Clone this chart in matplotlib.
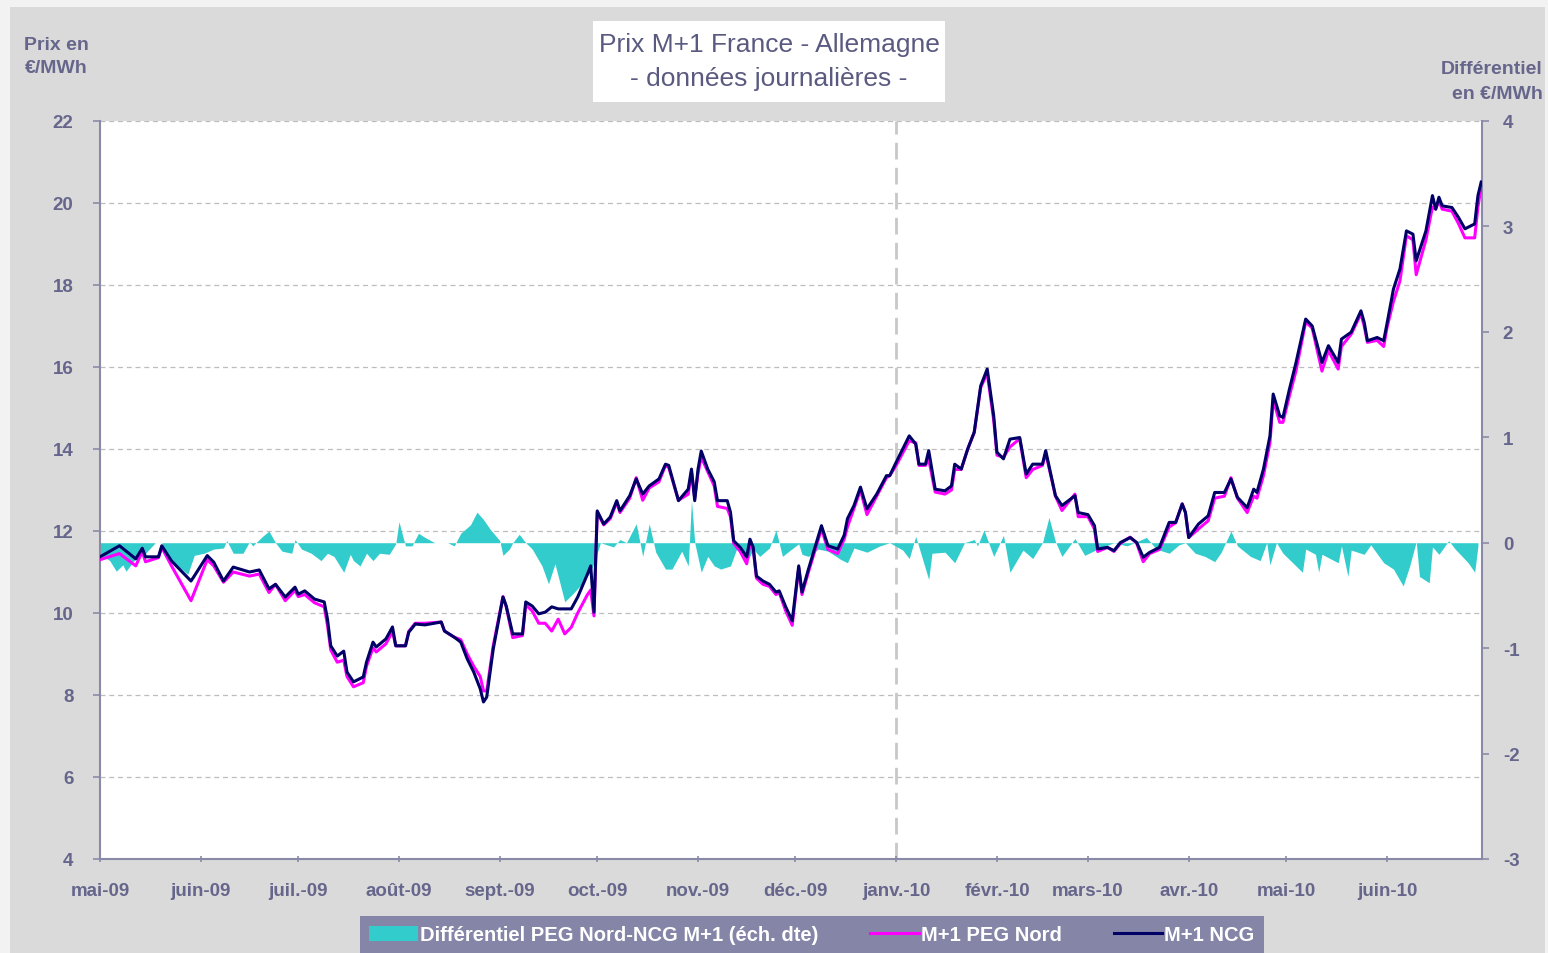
import matplotlib
matplotlib.use("Agg")
import matplotlib.pyplot as plt
from matplotlib import font_manager
from matplotlib.patches import Rectangle
import pandas as pd

plt.rcParams["axes.unicode_minus"] = False

# ---------------- data ----------------
price_dates = [
    "2009-05-01", "2009-05-07", "2009-05-12", "2009-05-14", "2009-05-15", "2009-05-19", "2009-05-20",
    "2009-05-23", "2009-05-29", "2009-05-30", "2009-06-03", "2009-06-05", "2009-06-08", "2009-06-11",
    "2009-06-16", "2009-06-19", "2009-06-22", "2009-06-24", "2009-06-27", "2009-06-30", "2009-07-01",
    "2009-07-03", "2009-07-06", "2009-07-09", "2009-07-10", "2009-07-11", "2009-07-13", "2009-07-15",
    "2009-07-16", "2009-07-18", "2009-07-21", "2009-07-22", "2009-07-24", "2009-07-25", "2009-07-28",
    "2009-07-30", "2009-07-31", "2009-08-03", "2009-08-04", "2009-08-06", "2009-08-09", "2009-08-14",
    "2009-08-15", "2009-08-18", "2009-08-20", "2009-08-22", "2009-08-24", "2009-08-26", "2009-08-27",
    "2009-08-28", "2009-08-30", "2009-09-02", "2009-09-03", "2009-09-05", "2009-09-08", "2009-09-09",
    "2009-09-11", "2009-09-13", "2009-09-15", "2009-09-17", "2009-09-19", "2009-09-21", "2009-09-23",
    "2009-09-25", "2009-09-28", "2009-09-29", "2009-09-30", "2009-10-01", "2009-10-03", "2009-10-05",
    "2009-10-07", "2009-10-08", "2009-10-11", "2009-10-13", "2009-10-15", "2009-10-17", "2009-10-20",
    "2009-10-22", "2009-10-23", "2009-10-26", "2009-10-29", "2009-10-30", "2009-10-31", "2009-11-01",
    "2009-11-02", "2009-11-04", "2009-11-06", "2009-11-07", "2009-11-10", "2009-11-11", "2009-11-12",
    "2009-11-14", "2009-11-16", "2009-11-17", "2009-11-18", "2009-11-19", "2009-11-21", "2009-11-23",
    "2009-11-25", "2009-11-26", "2009-11-28", "2009-11-30", "2009-12-02", "2009-12-03", "2009-12-05",
    "2009-12-09", "2009-12-11", "2009-12-14", "2009-12-16", "2009-12-17", "2009-12-19", "2009-12-21",
    "2009-12-23", "2009-12-26", "2009-12-29", "2009-12-30", "2010-01-01", "2010-01-05", "2010-01-07",
    "2010-01-08", "2010-01-10", "2010-01-11", "2010-01-13", "2010-01-16", "2010-01-18", "2010-01-19",
    "2010-01-21", "2010-01-23", "2010-01-25", "2010-01-27", "2010-01-29", "2010-01-31", "2010-02-01",
    "2010-02-03", "2010-02-05", "2010-02-08", "2010-02-10", "2010-02-12", "2010-02-15", "2010-02-16",
    "2010-02-19", "2010-02-21", "2010-02-25", "2010-02-26", "2010-03-01", "2010-03-03", "2010-03-04",
    "2010-03-07", "2010-03-09", "2010-03-11", "2010-03-14", "2010-03-16", "2010-03-18", "2010-03-20",
    "2010-03-23", "2010-03-26", "2010-03-28", "2010-03-30", "2010-03-31", "2010-04-01", "2010-04-04",
    "2010-04-07", "2010-04-09", "2010-04-12", "2010-04-14", "2010-04-16", "2010-04-19", "2010-04-21",
    "2010-04-22", "2010-04-24", "2010-04-26", "2010-04-27", "2010-04-29", "2010-04-30", "2010-05-02",
    "2010-05-04", "2010-05-07", "2010-05-09", "2010-05-12", "2010-05-14", "2010-05-17", "2010-05-18",
    "2010-05-21", "2010-05-24", "2010-05-25", "2010-05-26", "2010-05-29", "2010-05-31", "2010-06-01",
    "2010-06-03", "2010-06-05", "2010-06-07", "2010-06-09", "2010-06-10", "2010-06-13", "2010-06-15",
    "2010-06-16", "2010-06-17", "2010-06-18", "2010-06-21", "2010-06-23", "2010-06-25", "2010-06-28",
    "2010-06-29", "2010-06-30",
]

ncg = [
    11.37, 11.64, 11.32, 11.58, 11.37, 11.37, 11.64,
    11.27, 10.78, 10.90, 11.40, 11.24, 10.78, 11.12,
    11.00, 11.05, 10.59, 10.70, 10.39, 10.63, 10.46,
    10.54, 10.34, 10.27, 9.85, 9.20, 8.95, 9.07,
    8.56, 8.32, 8.44, 8.80, 9.29, 9.17, 9.37,
    9.66, 9.20, 9.20, 9.53, 9.73, 9.71, 9.78,
    9.56, 9.41, 9.29, 8.88, 8.56, 8.15, 7.83,
    7.95, 9.12, 10.39, 10.17, 9.49, 9.49, 10.27,
    10.17, 9.98, 10.02, 10.15, 10.10, 10.10, 10.10,
    10.39, 10.95, 11.15, 10.02, 12.49, 12.17, 12.34,
    12.74, 12.49, 12.86, 13.27, 12.90, 13.10, 13.27,
    13.63, 13.60, 12.74, 13.02, 13.51, 12.74, 13.50,
    13.95, 13.51, 13.20, 12.74, 12.74, 12.46, 11.76,
    11.60, 11.37, 11.80, 11.60, 10.90, 10.78, 10.70,
    10.51, 10.54, 10.15, 9.81, 11.15, 10.51, 11.07,
    12.13, 11.64, 11.56, 11.90, 12.30, 12.62, 13.07,
    12.54, 12.90, 13.35, 13.35, 13.68, 14.32, 14.12,
    13.63, 13.63, 13.96, 13.02, 12.98, 13.10, 13.63,
    13.51, 14.00, 14.41, 15.54, 15.95, 14.81, 13.92,
    13.76, 14.24, 14.28, 13.39, 13.63, 13.63, 13.96,
    12.86, 12.62, 12.86, 12.45, 12.40, 12.13, 11.56,
    11.60, 11.52, 11.72, 11.84, 11.72, 11.36, 11.48,
    11.60, 12.21, 12.21, 12.66, 12.45, 11.84, 12.17,
    12.37, 12.94, 12.94, 13.27, 12.82, 12.57, 13.02,
    12.94, 13.51, 14.32, 15.34, 14.81, 14.77, 15.46,
    16.10, 17.17, 17.00, 16.11, 16.52, 16.11, 16.68,
    16.85, 17.37, 17.09, 16.64, 16.72, 16.64, 17.05,
    17.90, 18.39, 19.32, 19.24, 18.59, 19.32, 20.18,
    19.85, 20.14, 19.93, 19.89, 19.65, 19.37, 19.49,
    20.18, 20.51,
]

peg_nord = [
    11.30, 11.45, 11.15, 11.50, 11.25, 11.35, 11.60,
    11.15, 10.30, 10.50, 11.30, 11.15, 10.75, 11.00,
    10.90, 10.95, 10.50, 10.70, 10.30, 10.55, 10.40,
    10.45, 10.25, 10.15, 9.70, 9.10, 8.80, 8.85,
    8.45, 8.20, 8.30, 8.70, 9.15, 9.05, 9.25,
    9.55, 9.20, 9.20, 9.55, 9.75, 9.75, 9.78,
    9.56, 9.41, 9.35, 9.00, 8.70, 8.45, 8.10,
    8.10, 9.20, 10.40, 10.15, 9.40, 9.45, 10.20,
    10.05, 9.75, 9.75, 9.56, 9.85, 9.49, 9.65,
    10.00, 10.45, 10.56, 9.93, 12.45, 12.15, 12.30,
    12.70, 12.45, 12.80, 13.30, 12.75, 13.05, 13.20,
    13.60, 13.55, 12.75, 12.90, 13.45, 12.80, 13.40,
    13.80, 13.45, 13.10, 12.60, 12.55, 12.35, 11.70,
    11.50, 11.20, 11.70, 11.55, 10.85, 10.70, 10.65,
    10.45, 10.50, 10.05, 9.70, 11.10, 10.45, 11.00,
    12.05, 11.55, 11.45, 11.80, 12.10, 12.55, 13.00,
    12.40, 12.85, 13.30, 13.35, 13.60, 14.20, 14.15,
    13.60, 13.60, 13.75, 12.95, 12.90, 13.00, 13.50,
    13.50, 14.00, 14.40, 15.50, 15.85, 14.70, 13.85,
    13.80, 14.05, 14.25, 13.30, 13.50, 13.60, 13.90,
    12.85, 12.50, 12.90, 12.35, 12.35, 12.05, 11.50,
    11.60, 11.50, 11.70, 11.85, 11.70, 11.25, 11.45,
    11.55, 12.10, 12.20, 12.66, 12.45, 11.84, 12.05,
    12.25, 12.80, 12.85, 13.30, 12.80, 12.45, 12.85,
    12.80, 13.35, 14.15, 15.20, 14.65, 14.65, 15.30,
    15.90, 17.10, 16.95, 15.90, 16.40, 15.95, 16.50,
    16.80, 17.30, 17.00, 16.60, 16.65, 16.50, 16.95,
    17.60, 18.10, 19.20, 19.10, 18.25, 19.10, 19.90,
    19.85, 20.05, 19.85, 19.80, 19.50, 19.15, 19.15,
    19.90, 20.40,
]

diff_dates = [
    "2009-05-01", "2009-05-04", "2009-05-06", "2009-05-08", "2009-05-09", "2009-05-12", "2009-05-15",
    "2009-05-18", "2009-05-20", "2009-05-21", "2009-05-25", "2009-05-28", "2009-05-30", "2009-06-02",
    "2009-06-05", "2009-06-08", "2009-06-09", "2009-06-11", "2009-06-14", "2009-06-16", "2009-06-17",
    "2009-06-20", "2009-06-22", "2009-06-24", "2009-06-26", "2009-06-29", "2009-06-30", "2009-07-02",
    "2009-07-05", "2009-07-08", "2009-07-10", "2009-07-12", "2009-07-15", "2009-07-17", "2009-07-18",
    "2009-07-20", "2009-07-22", "2009-07-24", "2009-07-26", "2009-07-29", "2009-07-31", "2009-08-01",
    "2009-08-02", "2009-08-03", "2009-08-05", "2009-08-07", "2009-08-09", "2009-08-12", "2009-08-16",
    "2009-08-18", "2009-08-20", "2009-08-23", "2009-08-25", "2009-08-27", "2009-08-29", "2009-09-01",
    "2009-09-02", "2009-09-04", "2009-09-05", "2009-09-07", "2009-09-09", "2009-09-11", "2009-09-14",
    "2009-09-16", "2009-09-18", "2009-09-20", "2009-09-21", "2009-09-23", "2009-09-26", "2009-09-29",
    "2009-09-30", "2009-10-02", "2009-10-06", "2009-10-08", "2009-10-10", "2009-10-13", "2009-10-15",
    "2009-10-17", "2009-10-19", "2009-10-22", "2009-10-24", "2009-10-27", "2009-10-29", "2009-10-30",
    "2009-10-31", "2009-11-02", "2009-11-04", "2009-11-06", "2009-11-08", "2009-11-11", "2009-11-13",
    "2009-11-16", "2009-11-18", "2009-11-20", "2009-11-23", "2009-11-25", "2009-11-27", "2009-11-29",
    "2009-12-02", "2009-12-03", "2009-12-05", "2009-12-08", "2009-12-11", "2009-12-15", "2009-12-17",
    "2009-12-19", "2009-12-23", "2009-12-27", "2009-12-30", "2010-01-03", "2010-01-05", "2010-01-07",
    "2010-01-11", "2010-01-12", "2010-01-16", "2010-01-19", "2010-01-22", "2010-01-25", "2010-01-26",
    "2010-01-28", "2010-01-31", "2010-02-03", "2010-02-05", "2010-02-09", "2010-02-12", "2010-02-15",
    "2010-02-17", "2010-02-19", "2010-02-21", "2010-02-25", "2010-02-28", "2010-03-04", "2010-03-09",
    "2010-03-13", "2010-03-19", "2010-03-22", "2010-03-26", "2010-03-29", "2010-03-31", "2010-04-03",
    "2010-04-06", "2010-04-09", "2010-04-11", "2010-04-14", "2010-04-16", "2010-04-20", "2010-04-23",
    "2010-04-25", "2010-04-26", "2010-04-28", "2010-04-30", "2010-05-03", "2010-05-06", "2010-05-07",
    "2010-05-10", "2010-05-11", "2010-05-12", "2010-05-17", "2010-05-18", "2010-05-20", "2010-05-21",
    "2010-05-25", "2010-05-27", "2010-05-31", "2010-06-03", "2010-06-06", "2010-06-08", "2010-06-10",
    "2010-06-11", "2010-06-14", "2010-06-15", "2010-06-17", "2010-06-20", "2010-06-22", "2010-06-26",
    "2010-06-28", "2010-06-29",
]

differentiel = [
    -0.11, -0.17, -0.27, -0.21, -0.27, -0.15, -0.10,
    0.00, 0.00, -0.12, -0.22, -0.30, -0.12, -0.10,
    -0.06, -0.05, 0.02, -0.10, -0.10, 0.01, -0.03,
    0.06, 0.11, 0.00, -0.08, -0.10, 0.03, -0.06,
    -0.10, -0.17, -0.10, -0.13, -0.28, -0.11, -0.17,
    -0.22, -0.10, -0.17, -0.10, -0.11, -0.01, 0.20,
    0.08, -0.03, -0.03, 0.09, 0.05, 0.00, 0.00,
    -0.03, 0.09, 0.17, 0.29, 0.22, 0.13, 0.02,
    -0.12, -0.06, 0.00, 0.08, 0.00, -0.06, -0.22,
    -0.39, -0.20, -0.44, -0.56, -0.50, -0.40, -0.27,
    -0.19, 0.00, -0.04, 0.03, 0.00, 0.18, -0.13,
    0.18, -0.09, -0.25, -0.25, -0.08, -0.22, 0.40,
    0.00, -0.28, -0.13, -0.22, -0.25, -0.22, -0.05,
    -0.19, -0.06, -0.13, -0.05, 0.12, -0.13, -0.08,
    -0.01, -0.11, -0.13, -0.06, -0.08, -0.16, -0.19,
    -0.05, -0.09, -0.03, 0.00, -0.07, -0.15, 0.06,
    -0.35, -0.10, -0.09, -0.19, 0.00, 0.03, -0.03,
    0.12, -0.13, 0.07, -0.28, -0.07, -0.15, 0.00,
    0.24, 0.01, -0.13, 0.04, -0.12, -0.06, 0.00,
    -0.03, 0.05, -0.06, -0.10, -0.02, 0.00, -0.10,
    -0.13, -0.18, -0.09, 0.11, -0.03, -0.13, -0.17,
    0.00, -0.21, 0.00, -0.10, -0.19, -0.28, -0.06,
    -0.11, -0.28, -0.11, -0.19, -0.03, -0.32, -0.07,
    -0.11, -0.02, -0.19, -0.25, -0.41, -0.22, 0.01,
    -0.32, -0.38, -0.04, -0.11, 0.02, -0.06, -0.19,
    -0.28, -0.03,
]

month_labels = ["mai-09", "juin-09", "juil.-09", "août-09", "sept.-09", "oct.-09", "nov.-09",
                "déc.-09", "janv.-10", "févr.-10", "mars-10", "avr.-10", "mai-10", "juin-10"]
title_lines = ["Prix M+1 France - Allemagne", "- données journalières -"]
left_label = "Prix en\n€/MWh"
right_label = "Différentiel\nen €/MWh"
legend_labels = ["Différentiel PEG Nord-NCG M+1 (éch. dte)", "M+1 PEG Nord", "M+1 NCG"]

# ---------------- style ----------------
avail = {f.name for f in font_manager.fontManager.ttflist}
regular = "Liberation Sans" if "Liberation Sans" in avail else "DejaVu Sans"

TXT = "#66668c"
AXC = "#8a8aa8"
TEAL = "#33cccc"
MAG = "#ff00ff"
NAVY = "#000066"

pdates = pd.to_datetime(price_dates)
ddates = pd.to_datetime(diff_dates)
months = pd.date_range("2009-05-01", "2010-06-01", freq="MS")

fig = plt.figure(figsize=(15.48, 9.54), dpi=100)
fig.patch.set_facecolor("#f2f2f2")
fig.patches.append(Rectangle((10 / 1548, 0), 1535 / 1548, 946 / 954, transform=fig.transFigure,
                             facecolor="#dadada", edgecolor="none", zorder=-10))

ax2 = fig.add_axes([100 / 1548, 1 - 860 / 954, 1382 / 1548, 738 / 954])
ax2.set_zorder(0)
ax = ax2.twinx()
ax.set_zorder(1)
ax.patch.set_visible(False)
ax2.patch.set_facecolor("white")
ax2.yaxis.tick_right()
ax2.yaxis.set_label_position("right")
ax.yaxis.tick_left()
ax.yaxis.set_label_position("left")

# differential (right axis)
ax2.fill_between(ddates, 0, differentiel, color=TEAL, linewidth=0, label=legend_labels[0])
ax2.set_ylim(-3, 4)
ax2.set_yticks(range(-3, 5))

# prices (left axis)
ax.plot(pdates, peg_nord, color=MAG, lw=2.2, label=legend_labels[1], zorder=3)
ax.plot(pdates, ncg, color=NAVY, lw=2.2, label=legend_labels[2], zorder=4)
ax.set_ylim(4, 22)
ax.set_yticks(range(4, 23, 2))
ax2.set_xlim(pd.Timestamp("2009-05-01"), pd.Timestamp("2010-06-30 06:00"))

# grid lines drawn on the background axes (behind the fill) at left-axis levels
for v in range(6, 23, 2):
    ax2.axhline(-3 + (v - 4) * 7 / 18, color="#bdbdbd", linestyle=(0, (4, 3)), lw=0.9, zorder=0.5)
ax2.axvline(pd.Timestamp("2010-01-01"), color="#c8c8c8", lw=2, linestyle=(0, (6, 3)), zorder=0.6)

ax2.set_xticks(months)
ax2.set_xticklabels(month_labels)
ax.tick_params(axis="x", which="both", bottom=False, labelbottom=False)

for a in (ax, ax2):
    a.spines["top"].set_visible(False)
ax.spines["right"].set_visible(False)
ax.spines["bottom"].set_visible(False)
ax2.spines["left"].set_visible(False)
ax.spines["left"].set_color(AXC)
ax2.spines["bottom"].set_color(AXC)
ax2.spines["right"].set_color(AXC)
for s in (ax.spines["left"], ax2.spines["bottom"], ax2.spines["right"]):
    s.set_linewidth(1.5)

ax.tick_params(axis="y", colors=AXC, labelcolor=TXT, length=5, width=1.2, pad=14, labelsize=13.5)
ax2.tick_params(axis="x", colors=AXC, labelcolor=TXT, length=5, width=1.2, pad=14, labelsize=13.5,
                direction="inout")
ax2.tick_params(axis="y", colors=AXC, labelcolor=TXT, length=5, width=1.2, pad=10, labelsize=13.5)
for lab in ax2.get_xticklabels() + ax.get_yticklabels() + ax2.get_yticklabels():
    lab.set_fontfamily(regular)
    lab.set_fontweight("bold")

# axis titles
fig.text(56 / 1548, 1 - 57 / 954, left_label, ha="center", va="center", color=TXT,
         fontsize=14, fontweight="bold", family=regular, linespacing=1.45)
fig.text(1543 / 1548, 1 - 82 / 954, right_label, ha="right", va="center", color=TXT,
         fontsize=14, fontweight="bold", family=regular, linespacing=1.65, multialignment="right")

# title box
fig.patches.append(Rectangle((593 / 1548, 1 - 103 / 954), 352 / 1548, 81 / 954, transform=fig.transFigure,
                             facecolor="white", edgecolor="none", zorder=1))
fig.text(769 / 1548, 1 - 45 / 954, title_lines[0], ha="center", va="center", color="#5a5a80",
         fontsize=19, family=regular, zorder=2)
fig.text(769 / 1548, 1 - 79 / 954, title_lines[1], ha="center", va="center", color="#5a5a80",
         fontsize=19, family=regular, zorder=2)

# legend
h1, l1 = ax2.get_legend_handles_labels()
h2, l2 = ax.get_legend_handles_labels()
leg = fig.legend(h1 + h2, l1 + l2, loc="center", bbox_to_anchor=(812 / 1548, 1 - 936 / 954), ncol=3,
                 frameon=True, facecolor="#8585a8", edgecolor="none", framealpha=1, fancybox=False,
                 handlelength=2.4, handletextpad=0.1, columnspacing=2.6, borderpad=0.45,
                 prop={"family": regular, "weight": "bold", "size": 14.5})
for t in leg.get_texts():
    t.set_color("white")

fig.savefig("out.png", dpi=100, facecolor=fig.get_facecolor())
